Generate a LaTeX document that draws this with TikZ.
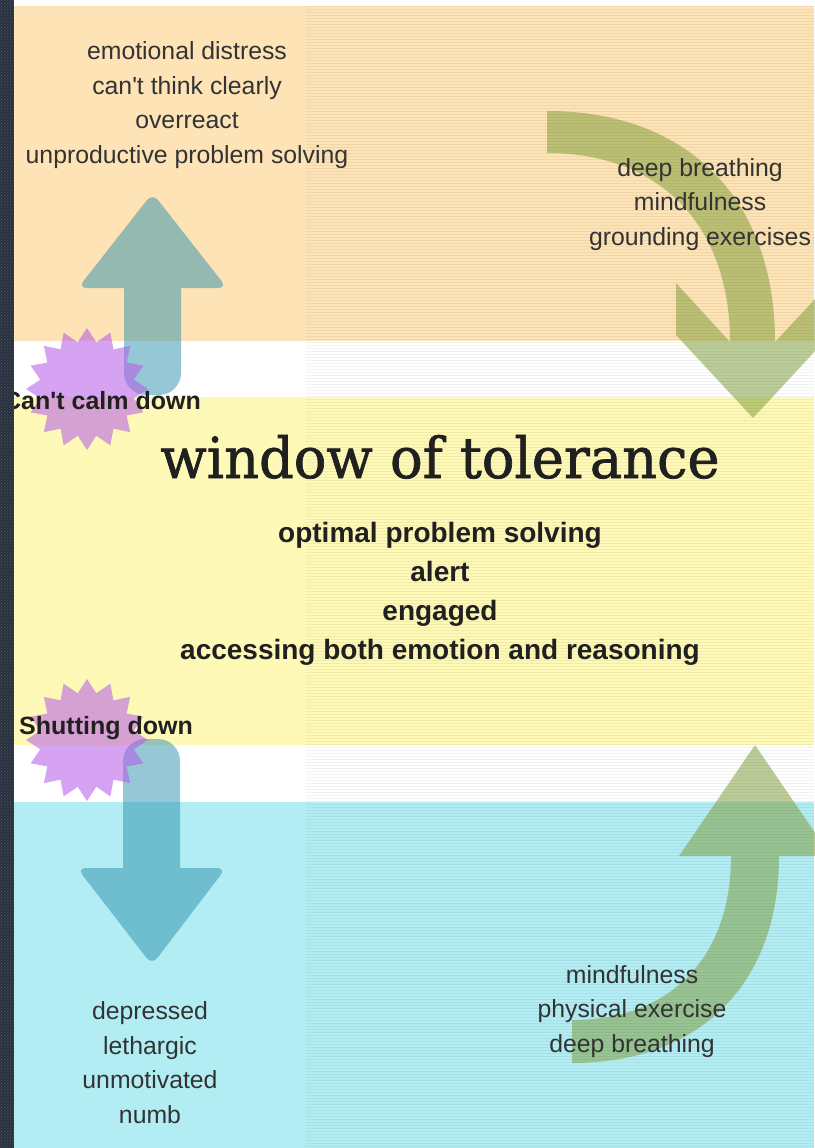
\documentclass[tikz,border=0pt]{standalone}
\usepackage{fontspec}
\setmainfont{Liberation Sans}[Ligatures=TeXOff]
\newfontfamily\titlefont{DejaVu Serif}[FakeBold=1.3]
\usetikzlibrary{shapes.geometric,patterns}

\definecolor{peach}{HTML}{FDE3B5}
\definecolor{lemon}{HTML}{FEF9B6}
\definecolor{aqua}{HTML}{B2EDF3}
\definecolor{ink}{HTML}{333333}
\definecolor{inkdark}{HTML}{202020}
\definecolor{slate}{HTML}{2A313E}
\definecolor{slatedot}{HTML}{4C5668}
\definecolor{arrowblue}{RGB}{45,145,175}
\definecolor{arrowgreen}{RGB}{128,158,58}
\definecolor{burst}{RGB}{180,88,233}

\begin{document}
\begin{tikzpicture}[x=1pt,y=-1pt,
  bluearrow/.style={fill=arrowblue,fill opacity=0.5},
  greenarrow/.style={fill=arrowgreen,fill opacity=0.52},
  burststyle/.style={star,star points=16,star point ratio=1.28,minimum size=122pt,
    inner sep=0pt,fill=burst,fill opacity=0.55,draw=none},
  stripe/.style={fill=black,fill opacity=0.05},
  txt/.style={inner sep=0pt,text=ink,align=center,
    font=\fontsize{24.8}{34.5}\selectfont},
  boldtxt/.style={inner sep=0pt,text=inkdark,align=center,
    font=\fontsize{28}{39}\selectfont\bfseries},
  tagtxt/.style={inner sep=0pt,text=inkdark,
    font=\fontsize{25}{30}\selectfont\bfseries},
  titletxt/.style={inner sep=0pt,text=inkdark}]
\useasboundingbox (0,0) rectangle (814,1148);

% horizontal zones
\fill[white] (0,0) rectangle (814,6);
\fill[peach] (0,6) rectangle (814,341);
\fill[white] (0,341) rectangle (814,397);
\fill[lemon] (0,397) rectangle (814,745);
\fill[white] (0,745) rectangle (814,802);
\fill[aqua] (0,802) rectangle (814,1148);

% curved arrow, top right: calming down
\fill[greenarrow] (547,111) .. controls (688,111) and (775,199) .. (775,342)
  -- (830,283) -- (830,335) -- (753,418) -- (676,335) -- (676,283) -- (730,342)
  .. controls (730,225) and (660,153) .. (547,153) -- cycle;

% curved arrow, bottom right: activating
\fill[greenarrow] (572,1063) .. controls (700,1063) and (779,984) .. (779,856)
  -- (831,856) -- (755,745) -- (679,856) -- (731,856)
  .. controls (731,958) and (670,1020) .. (572,1020) -- cycle;

% straight arrow up
\fill[bluearrow] (152.5,193) [rounded corners=9] -- (227,288) [sharp corners] -- (181,288)
  [rounded corners=22] -- (181,395) -- (124,395) [sharp corners] -- (124,288)
  [rounded corners=9] -- (78,288) -- cycle;

% straight arrow down
\fill[bluearrow] (152,965) [rounded corners=9] -- (226,868) [sharp corners] -- (180,868)
  [rounded corners=22] -- (180,739) -- (123,739) [sharp corners] -- (123,868)
  [rounded corners=9] -- (77,868) -- cycle;

% bursts
\node[burststyle] (calmburst) at (87,389) {};
\node[burststyle] (shutburst) at (87,740) {};

% scan lines on the right part
\foreach \k in {0,...,380}
  \fill[stripe] (306,6+3*\k) rectangle (814,7+3*\k);

% texts (multi-line blocks are anchored at the baseline of their last line)
\node[txt,anchor=base] (hyper) at (187,163)
  {emotional distress\\can't think clearly\\overreact\\unproductive problem solving};
\node[txt,anchor=base] (calmtools) at (700,245)
  {deep breathing\\mindfulness\\grounding exercises};
\node[titletxt,anchor=base] (title) at (440,478)
  {\resizebox{559pt}{43pt}{\titlefont window of tolerance}};
\node[boldtxt,anchor=base] (optimal) at (440,659)
  {optimal problem solving\\alert\\engaged\\accessing both emotion and reasoning};
\node[tagtxt,anchor=base west] (calm) at (3,409) {Can't calm down};
\node[tagtxt,anchor=base west] (shut) at (19,734) {Shutting down};
\node[txt,anchor=base] (hypo) at (150,1123)
  {depressed\\lethargic\\unmotivated\\numb};
\node[txt,anchor=base] (activate) at (632,1052)
  {mindfulness\\physical exercise\\deep breathing};

% dark edge on the left
\fill[slate] (0,0) rectangle (14,1148);
\fill[pattern=crosshatch dots,pattern color=slatedot] (0,0) rectangle (14,1148);
\end{tikzpicture}
\end{document}
